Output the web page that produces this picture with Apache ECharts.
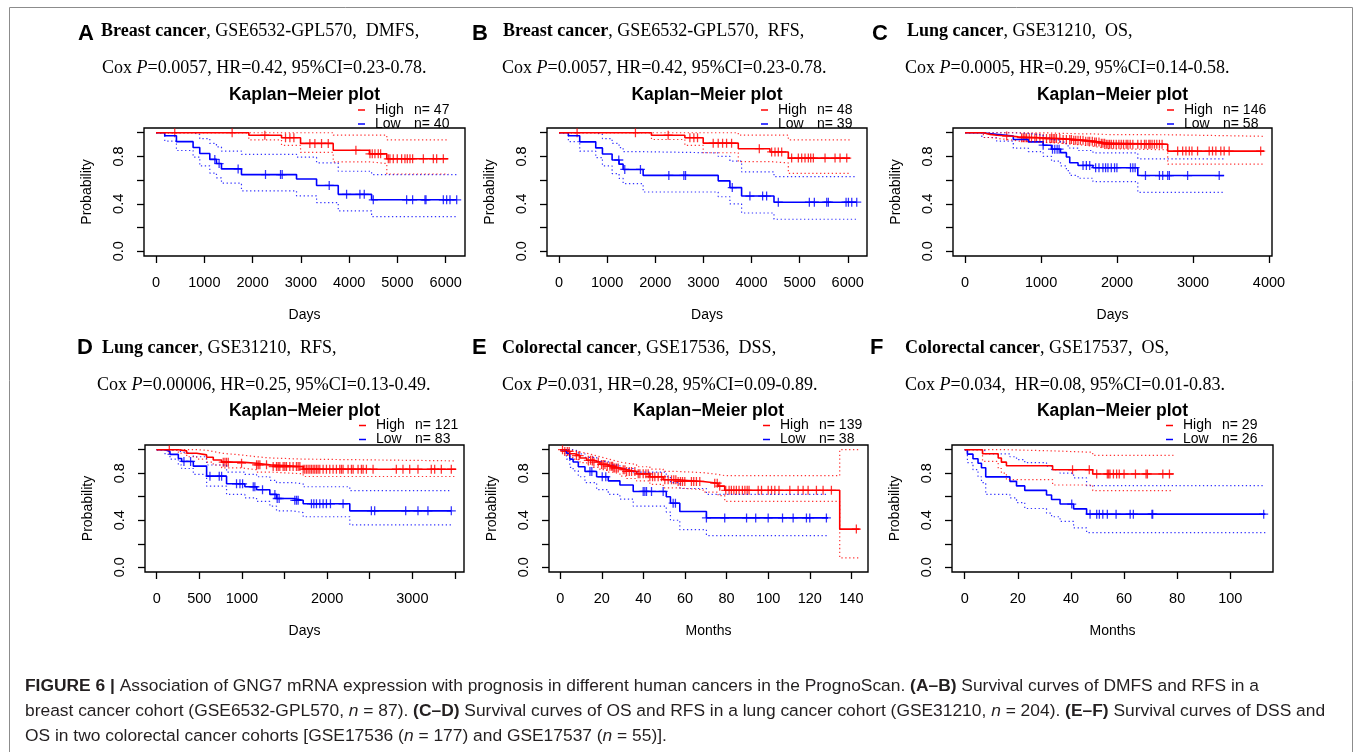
<!DOCTYPE html>
<html>
<head>
<meta charset="utf-8">
<title>GNG7 Kaplan-Meier plots</title>
<script src="https://cdn.jsdelivr.net/npm/echarts@6/dist/echarts.min.js"></script>
<style>
  html, body { margin: 0; padding: 0; background: #fff; }
  #chart { width: 1357px; height: 752px; }
</style>
</head>
<body>
<div id="chart"></div>
<script>
// each curve row: [time, survival, lower 95% CI, upper 95% CI]; last row = end of follow-up
// censor arrays: times of censored cases (drawn as +)

// A: breast cancer, GSE6532-GPL570, DMFS (days)
const aHigh = [[0,1,1,1],[1921,0.979,0.94,1],[2599,0.958,0.894,1],[2993,0.91,0.835,1],[3670,0.852,0.755,0.98],[4420,0.822,0.74,0.98],[4780,0.78,0.652,0.94],[6055,0.78,0.652,0.94]];
const aHighCens = [387,1576,2253,2682,2772,2855,3186,3290,3428,3567,4140,4431,4479,4534,4603,4652,4811,4845,4914,4997,5087,5156,5205,5260,5315,5537,5744,5813,5951];
const aLow = [[0,1,1,1],[180,0.975,0.93,1],[422,0.925,0.85,1],[767,0.875,0.795,0.985],[905,0.825,0.72,0.95],[1113,0.775,0.66,0.91],[1251,0.74,0.62,0.88],[1355,0.695,0.575,0.845],[1769,0.647,0.51,0.817],[2910,0.61,0.468,0.794],[3325,0.555,0.411,0.746],[3774,0.48,0.34,0.675],[4465,0.434,0.292,0.647],[6228,0.434,0.292,0.647]];
const aLowCens = [1217,1306,1700,2267,2578,2613,3587,3947,4223,4313,4500,5191,5315,5571,5592,5951,6020,6089,6228];

// B: breast cancer, GSE6532-GPL570, RFS (days)
const bHigh = [[0,1,1,1],[1921,0.979,0.943,1],[2615,0.958,0.894,1],[2996,0.912,0.831,1],[3725,0.865,0.757,0.98],[4383,0.838,0.745,0.98],[4765,0.786,0.657,0.94],[6048,0.786,0.657,0.94]];
const bHighCens = [375,1588,2268,2719,2802,2878,3204,3308,3399,3482,3586,4162,4418,4488,4557,4627,4834,4973,5043,5112,5181,5230,5285,5528,5736,5840,5979];
const bLow = [[0,1,1,1],[194,0.974,0.925,1],[430,0.923,0.845,1],[763,0.872,0.79,0.985],[902,0.82,0.72,0.95],[1103,0.77,0.655,0.91],[1248,0.735,0.615,0.875],[1332,0.69,0.57,0.84],[1748,0.64,0.5,0.83],[3308,0.594,0.46,0.8],[3551,0.537,0.4,0.76],[3794,0.466,0.323,0.67],[4467,0.414,0.27,0.63],[6187,0.414,0.27,0.63]];
const bLowCens = [1242,1366,1692,2282,2594,2629,3600,3967,4231,4314,4557,5202,5306,5563,5597,5965,6014,6083,6187];

// C: lung cancer, GSE31210, OS (days)
const cHigh = [[0,1,1,1],[240,0.986,0.96,1],[330,0.979,0.952,1],[420,0.972,0.94,1],[600,0.965,0.93,1],[700,0.958,0.92,1],[1000,0.951,0.912,0.995],[1250,0.944,0.903,0.993],[1420,0.937,0.895,0.99],[1560,0.929,0.886,0.99],[1680,0.921,0.876,0.988],[1780,0.912,0.866,0.985],[1850,0.903,0.856,0.983],[2667,0.845,0.735,0.97],[3935,0.845,0.735,0.97]];
const cHighCens = [547,743,765,787,809,844,874,918,940,984,1027,1071,1115,1137,1159,1180,1202,1246,1290,1333,1377,1399,1430,1456,1486,1517,1552,1587,1618,1640,1674,1705,1727,1762,1793,1814,1836,1858,1880,1902,1924,1954,1989,2024,2055,2085,2120,2142,2173,2208,2273,2317,2361,2383,2418,2435,2461,2492,2523,2558,2593,2798,2864,2907,2951,2986,3060,3213,3257,3301,3366,3410,3476,3891];
const cLow = [[0,1,1,1],[219,0.986,0.96,1],[415,0.972,0.93,1],[634,0.943,0.87,0.995],[831,0.923,0.84,0.98],[1027,0.895,0.8,0.96],[1137,0.861,0.76,0.94],[1255,0.832,0.72,0.92],[1333,0.795,0.68,0.89],[1377,0.747,0.64,0.87],[1486,0.724,0.616,0.85],[1683,0.705,0.588,0.83],[2273,0.639,0.497,0.78],[3410,0.639,0.497,0.78]];
const cLowCens = [1027,1150,1180,1211,1237,1552,1596,1640,1718,1762,1814,1849,1880,1924,1967,1998,2177,2208,2238,2374,2558,2601,2667,2689,2929,3345];

// D: lung cancer, GSE31210, RFS (days)
const dHigh = [[0,1,1,1],[254,0.99,0.97,1],[352,0.97,0.94,1],[469,0.956,0.92,0.995],[586,0.936,0.895,0.985],[664,0.913,0.87,0.97],[762,0.894,0.845,0.955],[996,0.885,0.83,0.94],[1172,0.871,0.81,0.93],[1328,0.857,0.795,0.92],[1719,0.834,0.772,0.905],[3515,0.834,0.772,0.905]];
const dHighCens = [148,781,801,820,840,996,1172,1191,1211,1289,1367,1406,1426,1445,1484,1504,1523,1562,1601,1640,1660,1680,1719,1738,1758,1777,1797,1816,1836,1855,1875,1894,1914,1953,1992,2031,2070,2109,2148,2168,2187,2246,2285,2305,2363,2402,2422,2461,2539,2812,2890,2969,3066,3222,3262,3340,3457];
const dLow = [[0,1,1,1],[98,0.985,0.96,1],[156,0.96,0.92,0.995],[254,0.925,0.87,0.98],[293,0.9,0.84,0.965],[430,0.86,0.79,0.94],[586,0.775,0.69,0.87],[820,0.71,0.62,0.81],[1035,0.685,0.59,0.79],[1172,0.66,0.56,0.77],[1328,0.62,0.52,0.74],[1406,0.585,0.48,0.72],[1601,0.57,0.465,0.71],[1719,0.54,0.43,0.685],[2266,0.48,0.36,0.652],[3457,0.48,0.36,0.652]];
const dLowCens = [320,398,625,734,762,937,977,1008,1133,1152,1242,1387,1414,1437,1621,1641,1660,1816,1844,1875,1914,1953,1992,2039,2187,2519,2558,2922,3066,3183,3457];

// E: colorectal cancer, GSE17536, DSS (months)
const eHigh = [[0,1,1,1],[2.2,0.985,0.96,1],[4.6,0.965,0.935,0.99],[7.0,0.95,0.915,0.98],[9.5,0.93,0.89,0.97],[12.7,0.91,0.87,0.955],[15.9,0.895,0.85,0.94],[19.1,0.875,0.83,0.925],[22.3,0.86,0.81,0.91],[25.5,0.845,0.795,0.895],[28.7,0.83,0.775,0.885],[31.9,0.815,0.755,0.875],[36.7,0.795,0.735,0.855],[43.1,0.77,0.705,0.835],[49.5,0.745,0.675,0.815],[55.9,0.73,0.66,0.805],[68.7,0.715,0.64,0.79],[75.9,0.69,0.61,0.78],[79.1,0.655,0.56,0.78],[134.4,0.325,0.08,1],[144.0,0.325,0.08,1]];
const eHighCens = [1.1,2.2,3.4,4.3,7.8,9.1,13.5,14.6,15.5,16.2,18.3,19.9,20.7,21.5,22.6,23.9,24.7,25.2,25.8,26.3,27.1,27.9,30.3,31.1,31.9,33.2,34.3,35.9,37.5,38.3,39.9,41.2,42.3,43.1,44.4,45.5,47.1,48.7,50.3,51.9,53.5,54.6,55.6,56.7,57.8,58.8,59.9,63.1,64.2,65.5,67.1,74.3,75.5,76.7,79.6,81.2,82.3,83.5,84.7,86.0,87.6,88.8,89.9,90.8,95.2,96.8,100.0,101.6,103.2,105.2,110.4,114.4,116.8,119.2,123.2,126.4,130.4,142.4];
const eLow = [[0,1,1,1],[3.0,0.97,0.92,1],[4.6,0.92,0.85,1],[6.2,0.895,0.82,0.99],[8.7,0.855,0.77,0.965],[11.9,0.815,0.72,0.935],[17.5,0.77,0.66,0.9],[23.1,0.735,0.62,0.87],[28.7,0.7,0.58,0.84],[35.1,0.645,0.52,0.81],[51.0,0.6,0.47,0.77],[53.0,0.545,0.4,0.72],[57.5,0.475,0.32,0.67],[70.3,0.42,0.27,0.62],[128.8,0.42,0.27,0.62]];
const eLowCens = [14.3,15.2,20.2,21.9,39.9,40.7,41.5,43.9,49.5,54.3,55.4,70.3,79.1,89.6,94.0,100.0,106.9,112.0,118.4,120.0,128.0];

// F: colorectal cancer, GSE17537, OS (months)
const fHigh = [[0,1,1,1],[6.7,0.966,0.9,1],[12.6,0.929,0.84,1],[13.8,0.894,0.8,1],[15.7,0.863,0.745,0.99],[33.1,0.829,0.7,0.978],[48.2,0.794,0.652,0.952],[78.6,0.794,0.652,0.952]];
const fHighCens = [40.6,46.9,49.7,53.7,54.2,54.7,56.0,57.2,58.2,60.0,64.3,68.3,68.8,74.6,77.1];
const fLow = [[0,1,1,1],[1.0,0.962,0.89,1],[3.1,0.923,0.83,1],[5.0,0.885,0.77,1],[6.3,0.846,0.72,0.99],[7.9,0.769,0.62,0.965],[17.0,0.731,0.59,0.94],[19.5,0.692,0.55,0.915],[22.6,0.654,0.5,0.89],[30.8,0.615,0.46,0.86],[32.7,0.577,0.43,0.83],[35.9,0.538,0.39,0.8],[41.0,0.497,0.335,0.76],[45.9,0.452,0.295,0.695],[113.2,0.452,0.295,0.695]];
const fLowCens = [40.3,47.2,49.7,50.7,52.0,53.7,57.0,62.3,63.5,70.5,70.8,112.6];

// axis ticks / labels
const yTicks = [0, 0.2, 0.4, 0.6, 0.8, 1.0];
const yLabels = [0, 0.4, 0.8];
const ticks6000 = [0, 1000, 2000, 3000, 4000, 5000, 6000];
const ticks4000 = [0, 1000, 2000, 3000, 4000];
const ticks3500 = [0, 500, 1000, 1500, 2000, 2500, 3000, 3500];
const labels3500 = [0, 500, 1000, 2000, 3000];
const ticks140 = [0, 20, 40, 60, 80, 100, 120, 140];
const ticks100 = [0, 20, 40, 60, 80, 100];

const panels = [
  { letter: 'A', high: aHigh, highCens: aHighCens, low: aLow, lowCens: aLowCens, nHigh: 47, nLow: 40,
    xMin: -250, xMax: 6400, xTicks: ticks6000, xLabels: ticks6000, xName: 'Days',
    head: '{b|Breast cancer}, GSE6532-GPL570,  DMFS,', cox: 'Cox {i|P}=0.0057, HR=0.42, 95%CI=0.23-0.78.' },
  { letter: 'B', high: bHigh, highCens: bHighCens, low: bLow, lowCens: bLowCens, nHigh: 48, nLow: 39,
    xMin: -250, xMax: 6400, xTicks: ticks6000, xLabels: ticks6000, xName: 'Days',
    head: '{b|Breast cancer}, GSE6532-GPL570,  RFS,', cox: 'Cox {i|P}=0.0057, HR=0.42, 95%CI=0.23-0.78.' },
  { letter: 'C', high: cHigh, highCens: cHighCens, low: cLow, lowCens: cLowCens, nHigh: 146, nLow: 58,
    xMin: -160, xMax: 4040, xTicks: ticks4000, xLabels: ticks4000, xName: 'Days',
    head: '{b|Lung cancer}, GSE31210,  OS,', cox: 'Cox {i|P}=0.0005, HR=0.29, 95%CI=0.14-0.58.' },
  { letter: 'D', high: dHigh, highCens: dHighCens, low: dLow, lowCens: dLowCens, nHigh: 121, nLow: 83,
    xMin: -137, xMax: 3606, xTicks: ticks3500, xLabels: labels3500, xName: 'Days',
    head: '{b|Lung cancer}, GSE31210,  RFS,', cox: 'Cox {i|P}=0.00006, HR=0.25, 95%CI=0.13-0.49.' },
  { letter: 'E', high: eHigh, highCens: eHighCens, low: eLow, lowCens: eLowCens, nHigh: 139, nLow: 38,
    xMin: -5.4, xMax: 148, xTicks: ticks140, xLabels: ticks140, xName: 'Months',
    head: '{b|Colorectal cancer}, GSE17536,  DSS,', cox: 'Cox {i|P}=0.031, HR=0.28, 95%CI=0.09-0.89.' },
  { letter: 'F', high: fHigh, highCens: fHighCens, low: fLow, lowCens: fLowCens, nHigh: 29, nLow: 26,
    xMin: -4.8, xMax: 116.1, xTicks: ticks100, xLabels: ticks100, xName: 'Months',
    head: '{b|Colorectal cancer}, GSE17537,  OS,', cox: 'Cox {i|P}=0.034,  HR=0.08, 95%CI=0.01-0.83.' }
];

// where each panel sits on the page
const layout = [
  { left: 144, top: 128, w: 321, h: 128, letterX: 78, headX: 101, coxX: 102, row: 0 },
  { left: 547, top: 128, w: 320, h: 128, letterX: 472, headX: 503, coxX: 502, row: 0 },
  { left: 953, top: 128, w: 319, h: 128, letterX: 872, headX: 907, coxX: 905, row: 0 },
  { left: 145, top: 445, w: 319, h: 127, letterX: 77, headX: 102, coxX: 97, row: 1 },
  { left: 549, top: 445, w: 319, h: 127, letterX: 472, headX: 502, coxX: 502, row: 1 },
  { left: 952, top: 445, w: 321, h: 127, letterX: 870, headX: 905, coxX: 905, row: 1 }
];
const rowText = [
  { letterY: 34, headY: 31, coxY: 68, kmY: 95, legendTop: 103 },
  { letterY: 348, headY: 348, coxY: 385, kmY: 411, legendTop: 418.5 }
];

const RED = '#ff0000';
const BLUE = '#0000ff';
const SANS = '"Liberation Sans", Arial, sans-serif';
const SERIF = '"Liberation Serif", "Times New Roman", serif';
const CROSS = 'path://M0,4.3H10V5.7H0Z M4.3,0H5.7V10H4.3Z';

function survAt(rows, t) {
  let s = 1;
  rows.forEach(r => { if (r[0] <= t) s = r[1]; });
  return s;
}

const grid = [], xAxis = [], yAxis = [], series = [], legend = [], graphic = [];

graphic.push({
  type: 'rect', silent: true,
  shape: { x: 9.5, y: 7.5, width: 1343, height: 760 },
  style: { fill: 'none', stroke: '#8c8c8c', lineWidth: 1 }
});

panels.forEach((p, i) => {
  const L = layout[i];
  const R = rowText[L.row];
  grid.push({ left: L.left, top: L.top, width: L.w, height: L.h, show: true,
    borderColor: '#000', borderWidth: 1.4, backgroundColor: 'transparent',
    containLabel: false, outerBoundsMode: 'none' });

  xAxis.push({
    gridIndex: i, type: 'value', min: p.xMin, max: p.xMax,
    name: p.xName, nameLocation: 'middle', nameGap: 52,
    nameTextStyle: { fontFamily: SANS, fontSize: 14, color: '#000' },
    axisLine: { show: false, onZero: false }, splitLine: { show: false },
    axisTick: { show: true, length: 7, customValues: p.xTicks, lineStyle: { color: '#000', width: 1.3 } },
    axisLabel: { customValues: p.xLabels, margin: 19, fontFamily: SANS, fontSize: 14.5, color: '#000',
      formatter: v => String(v) }
  });
  yAxis.push({
    gridIndex: i, type: 'value', min: -0.04, max: 1.04,
    name: 'Probability', nameLocation: 'middle', nameGap: 50,
    nameTextStyle: { fontFamily: SANS, fontSize: 14, color: '#000' },
    axisLine: { show: false, onZero: false }, splitLine: { show: false },
    axisTick: { show: true, length: 7, customValues: yTicks, lineStyle: { color: '#000', width: 1.3 } },
    axisLabel: { customValues: yLabels, rotate: 90, margin: 18, fontFamily: SANS, fontSize: 14.5, color: '#000',
      formatter: v => Number(v).toFixed(1) }
  });

  const highName = 'High  n= ' + p.nHigh;
  const lowName = 'Low  n= ' + p.nLow;
  [[p.low, p.lowCens, BLUE, lowName], [p.high, p.highCens, RED, highName]].forEach(([rows, cens, col, nm]) => {
    const base = { type: 'line', xAxisIndex: i, yAxisIndex: i, step: 'end', showSymbol: false,
      symbol: 'none', silent: true, animation: false };
    series.push(Object.assign({}, base, {
      data: rows.map(r => [r[0], r[2]]),
      lineStyle: { color: col, width: 1.2, type: [1.3, 2.6], opacity: 0.8 }
    }));
    series.push(Object.assign({}, base, {
      data: rows.map(r => [r[0], r[3]]),
      lineStyle: { color: col, width: 1.2, type: [1.3, 2.6], opacity: 0.8 }
    }));
    series.push(Object.assign({}, base, {
      name: nm, color: col, itemStyle: { color: col },
      data: rows.map(r => [r[0], r[1]]),
      lineStyle: { color: col, width: 1.6 }
    }));
    series.push({
      type: 'scatter', xAxisIndex: i, yAxisIndex: i, silent: true, animation: false,
      symbol: CROSS, symbolSize: 9, itemStyle: { color: col },
      data: cens.map(t => [t, survAt(rows, t)])
    });
  });

  legend.push({
    data: [highName, lowName], orient: 'vertical', selectedMode: false,
    left: L.left + 214, top: R.legendTop, padding: 0, itemGap: 0,
    icon: 'rect', itemWidth: 7, itemHeight: 1.5,
    formatter: name => {
      const parts = name.split('  ');
      return '{a|' + parts[0] + '}{b|' + parts[1] + '}';
    },
    textStyle: { fontFamily: SANS, fontSize: 14, color: '#000', lineHeight: 13,
      rich: { a: { width: 39, padding: [0, 0, 0, 5], fontFamily: SANS, fontSize: 14, lineHeight: 13 },
              b: { fontFamily: SANS, fontSize: 14, lineHeight: 13 } } }
  });

  // panel letter, header lines, KM title
  graphic.push({ type: 'text', silent: true, x: L.letterX, y: R.letterY,
    style: { text: p.letter, fontFamily: SANS, fontWeight: 'bold', fontSize: 22, fill: '#000',
      align: 'left', verticalAlign: 'middle', textAlign: 'left', textVerticalAlign: 'middle' } });
  graphic.push({ type: 'text', silent: true, x: L.headX, y: R.headY,
    style: { text: p.head, fontFamily: SERIF, fontSize: 18, fill: '#000',
      align: 'left', verticalAlign: 'middle', textAlign: 'left', textVerticalAlign: 'middle',
      rich: { b: { fontFamily: SERIF, fontSize: 18, fontWeight: 'bold', fill: '#000' } } } });
  graphic.push({ type: 'text', silent: true, x: L.coxX, y: R.coxY,
    style: { text: p.cox, fontFamily: SERIF, fontSize: 18, fill: '#000',
      align: 'left', verticalAlign: 'middle', textAlign: 'left', textVerticalAlign: 'middle',
      rich: { i: { fontFamily: SERIF, fontSize: 18, fontStyle: 'italic', fill: '#000' } } } });
  graphic.push({ type: 'text', silent: true, x: L.left + L.w / 2, y: R.kmY,
    style: { text: 'Kaplan\u2212Meier plot', fontFamily: SANS, fontWeight: 'bold', fontSize: 17.5, fill: '#000',
      align: 'center', verticalAlign: 'middle', textAlign: 'center', textVerticalAlign: 'middle' } });
});

// figure caption
const captionLines = [
  '{b|FIGURE 6 |} Association of GNG7 mRNA expression with prognosis in different human cancers in the PrognoScan. {b|(A\u2013B)} Survival curves of DMFS and RFS in a',
  'breast cancer cohort (GSE6532-GPL570, {i|n} = 87). {b|(C\u2013D)} Survival curves of OS and RFS in a lung cancer cohort (GSE31210, {i|n} = 204). {b|(E\u2013F)} Survival curves of DSS and',
  'OS in two colorectal cancer cohorts [GSE17536 ({i|n} = 177) and GSE17537 ({i|n} = 55)].'
];
captionLines.forEach((txt, k) => {
  graphic.push({ type: 'text', silent: true, x: 25, y: 686 + k * 25,
    style: { text: txt, fontFamily: SANS, fontSize: 17.4, fill: '#231f20',
      align: 'left', verticalAlign: 'middle', textAlign: 'left', textVerticalAlign: 'middle',
      rich: { b: { fontFamily: SANS, fontSize: 17.4, fontWeight: 'bold', fill: '#231f20' },
              i: { fontFamily: SANS, fontSize: 17.4, fontStyle: 'italic', fill: '#231f20' } } } });
});

const chart = echarts.init(document.getElementById('chart'), null, { renderer: 'canvas' });
chart.setOption({
  backgroundColor: '#fff',
  animation: false,
  textStyle: { fontFamily: SANS },
  grid, xAxis, yAxis, series, legend, graphic
});
</script>
</body>
</html>
